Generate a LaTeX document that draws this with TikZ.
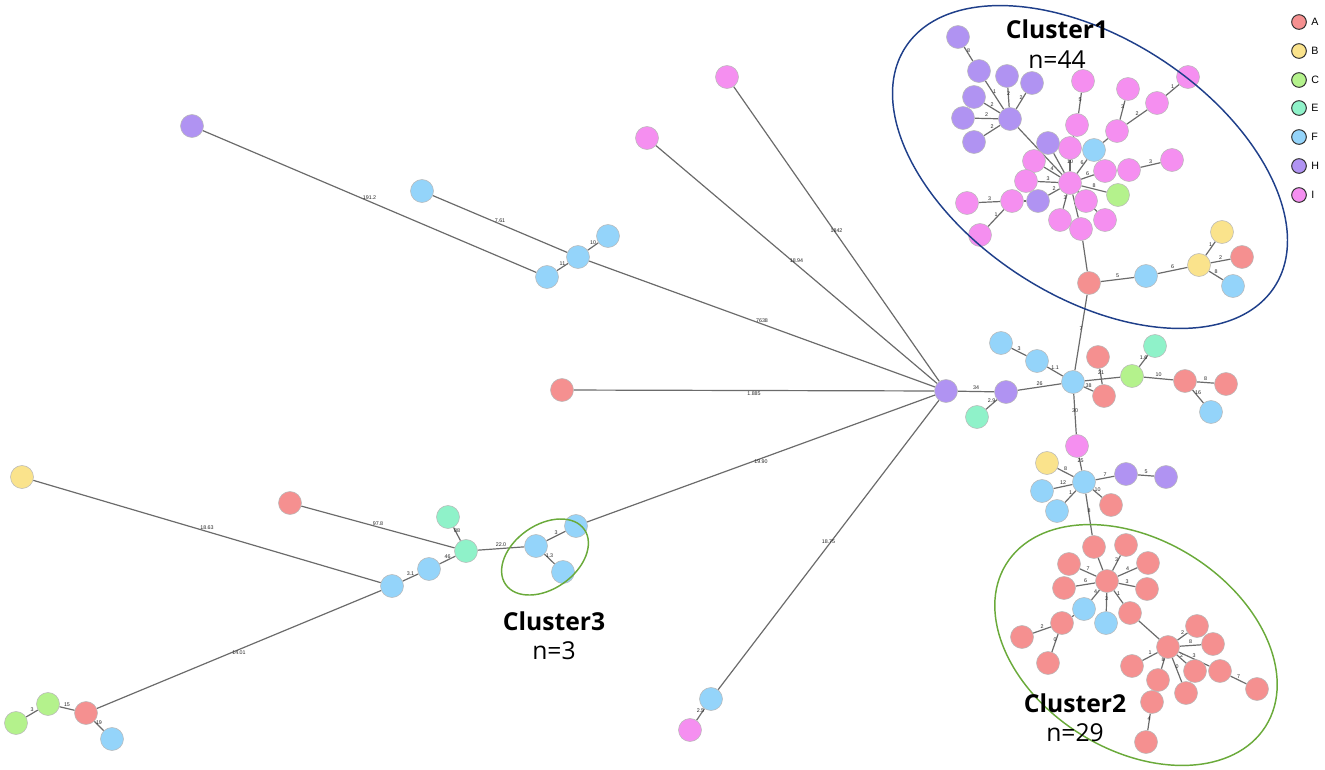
\documentclass[tikz,border=0pt]{standalone}
\usepackage{fontspec}
\setmainfont{Liberation Sans}
\newfontfamily\clf{Open Sans}
\definecolor{cA}{HTML}{F59090}
\definecolor{cB}{HTML}{FAE38C}
\definecolor{cC}{HTML}{B4F28C}
\definecolor{cE}{HTML}{8FF2C9}
\definecolor{cF}{HTML}{94D4FA}
\definecolor{cH}{HTML}{B093F2}
\definecolor{cI}{HTML}{F58FF0}
\definecolor{navy}{HTML}{1F3F8A}
\definecolor{grn}{HTML}{6AAA3A}
\pgfdeclarelayer{edges}
\pgfsetlayers{edges,main}
\tikzset{
 nd/.style={circle,draw=black!28,line width=0.4pt,minimum size=17.25pt,inner sep=0pt},
 ed/.style={draw=black!58,line width=0.9pt},
 el/.style={font=\fontsize{4}{4}\selectfont,inner sep=0.8pt,midway,above,text=black!85},
 lg/.style={circle,draw=black!80,line width=0.75pt,minimum size=11pt,inner sep=0pt},
 lt/.style={font=\fontsize{8}{8}\selectfont,anchor=west,inner sep=0pt},
 cl/.style={font=\clf\bfseries\fontsize{18.5}{20}\selectfont,inner sep=0pt},
 cn/.style={font=\clf\fontsize{18.5}{20}\selectfont,inner sep=0pt},
}
\newcommand\NodeAt[4]{\node[nd,fill=#4] (#1) at (#2,#3) {};}
\newcommand\EdgeL[4][]{\draw[ed] (#2) -- (#3) node[el,#1]{#4};}
\begin{document}
\begin{tikzpicture}[x=0.75pt,y=-0.75pt]
\useasboundingbox (0,0) rectangle (1325,769);
% ---------- central ----------
\NodeAt{hub}{946}{391}{cH}
\NodeAt{hr}{1006}{392}{cH}
\NodeAt{ea}{977}{417}{cE}
\NodeAt{fhub}{1073}{382}{cF}
\NodeAt{fe}{1001}{343}{cF}
\NodeAt{ff}{1037}{361}{cF}
\NodeAt{aa}{1098}{357}{cA}
\NodeAt{ab}{1104}{396}{cA}
\NodeAt{cg}{1132}{376}{cC}
\NodeAt{eb}{1155}{346}{cE}
\NodeAt{ac}{1185}{381}{cA}
\NodeAt{ad}{1226}{384}{cA}
\NodeAt{fg}{1211}{412}{cF}
\NodeAt{pk}{1077}{446}{cI}
\NodeAt{fh2}{1084}{482}{cF}
\NodeAt{by}{1047}{463}{cB}
\NodeAt{fh}{1042}{491}{cF}
\NodeAt{fi}{1057}{511}{cF}
\NodeAt{hpa}{1126}{474}{cH}
\NodeAt{hpb}{1166}{477}{cH}
\NodeAt{ae}{1111}{505}{cA}
% ---------- cluster 1 ----------
\NodeAt{ih}{1070}{183}{cI}
\NodeAt{ha}{958}{37}{cH}
\NodeAt{hb}{979}{71}{cH}
\NodeAt{hc}{1007}{76}{cH}
\NodeAt{hd}{1032}{83}{cH}
\NodeAt{he}{974}{97}{cH}
\NodeAt{hf}{963}{118}{cH}
\NodeAt{hg}{974}{142}{cH}
\NodeAt{hh}{1010}{119}{cH}
\NodeAt{pa}{1083}{81}{cI}
\NodeAt{pb}{1077}{125}{cI}
\NodeAt{pc}{1070}{148}{cI}
\NodeAt{hi}{1048}{143}{cH}
\NodeAt{fa1}{1094}{150}{cF}
\NodeAt{pd}{1117}{131}{cI}
\NodeAt{pe}{1128}{89}{cI}
\NodeAt{pf}{1157}{103}{cI}
\NodeAt{pg}{1188}{77}{cI}
\NodeAt{ph}{1034}{161}{cI}
\NodeAt{pi}{1026}{181}{cI}
\NodeAt{pj}{1105}{171}{cI}
\NodeAt{pl}{1129}{170}{cI}
\NodeAt{pm}{1172}{160}{cI}
\NodeAt{pn}{1086}{201}{cI}
\NodeAt{ca1}{1118}{195}{cC}
\NodeAt{hj}{1038}{201}{cH}
\NodeAt{po}{1012}{201}{cI}
\NodeAt{pp}{967}{203}{cI}
\NodeAt{pq}{980}{235}{cI}
\NodeAt{pr}{1060}{220}{cI}
\NodeAt{ps}{1081}{229}{cI}
\NodeAt{pu}{1105}{220}{cI}
\NodeAt{aone}{1089}{283}{cA}
\NodeAt{ftwo}{1146}{276}{cF}
\NodeAt{bone}{1199}{265}{cB}
\NodeAt{btwo}{1222}{232}{cB}
\NodeAt{atwo}{1242}{257}{cA}
\NodeAt{fthree}{1233}{286}{cF}
% ---------- cluster 2 ----------
\NodeAt{ct}{1094}{547}{cA}
\NodeAt{ch}{1107}{581}{cA}
\NodeAt{qa}{1126}{545}{cA}
\NodeAt{qb}{1148}{563}{cA}
\NodeAt{qc}{1147}{589}{cA}
\NodeAt{qd}{1069}{564}{cA}
\NodeAt{qe}{1064}{588}{cA}
\NodeAt{qf}{1084}{609}{cF}
\NodeAt{qg}{1106}{623}{cF}
\NodeAt{qh}{1130}{613}{cA}
\NodeAt{qi}{1062}{623}{cA}
\NodeAt{qj}{1022}{637}{cA}
\NodeAt{qk}{1048}{663}{cA}
\NodeAt{hubc}{1168}{647}{cA}
\NodeAt{ql}{1197}{626}{cA}
\NodeAt{qm}{1213}{644}{cA}
\NodeAt{qn}{1132}{666}{cA}
\NodeAt{qo}{1158}{680}{cA}
\NodeAt{qp}{1186}{693}{cA}
\NodeAt{qq}{1195}{671}{cA}
\NodeAt{qr}{1220}{671}{cA}
\NodeAt{qs}{1257}{689}{cA}
\NodeAt{qt}{1152}{702}{cA}
\NodeAt{qu}{1146}{742}{cA}
% ---------- left part ----------
\NodeAt{fa}{422}{191}{cF}
\NodeAt{fb}{578}{257}{cF}
\NodeAt{fc}{608}{236}{cF}
\NodeAt{fd}{547}{277}{cF}
\NodeAt{hl}{192}{126}{cH}
\NodeAt{pta}{727}{77}{cI}
\NodeAt{ptb}{647}{138}{cI}
\NodeAt{ar}{562}{390}{cA}
\NodeAt{ftop}{576}{526}{cF}
\NodeAt{cthree}{536}{546}{cF}
\NodeAt{cthreeb}{563}{572}{cF}
\NodeAt{eh}{466}{551}{cE}
\NodeAt{ethree}{448}{517}{cE}
\NodeAt{artwo}{290}{503}{cA}
\NodeAt{fm}{429}{569}{cF}
\NodeAt{fn}{392}{586}{cF}
\NodeAt{yl}{22}{477}{cB}
\NodeAt{al}{86}{713}{cA}
\NodeAt{ga}{48}{704}{cC}
\NodeAt{gb}{16}{723}{cC}
\NodeAt{fl}{112}{739}{cF}
\NodeAt{fbot}{711}{699}{cF}
\NodeAt{pbot}{690}{730}{cI}
% ---------- edges ----------
\begin{pgfonlayer}{edges}
% long edges to hub
\EdgeL{hub}{fb}{7638}
\EdgeL{hub}{pta}{1842}
\EdgeL{hub}{ptb}{18.94}
\EdgeL[below]{hub}{ar}{1.885}
\EdgeL[below]{hub}{ftop}{19.90}
\EdgeL{hub}{fbot}{18.75}
\EdgeL{fa}{fb}{7.61}
\EdgeL{hl}{fd}{191.2}
\EdgeL{fb}{fc}{10}
\EdgeL{fb}{fd}{11}
\EdgeL{ftop}{cthree}{3}
\EdgeL{cthree}{cthreeb}{1.3}
\EdgeL{eh}{cthree}{22.0}
\EdgeL{ethree}{eh}{88}
\EdgeL{artwo}{eh}{97.8}
\EdgeL{fm}{eh}{46}
\EdgeL{fn}{fm}{3.1}
\EdgeL{yl}{fn}{18.63}
\EdgeL[below]{al}{fn}{14.01}
\EdgeL{ga}{al}{15}
\EdgeL{gb}{ga}{3}
\EdgeL{al}{fl}{19}
\EdgeL{fbot}{pbot}{2.5}
% central right
\EdgeL{hub}{hr}{34}
\EdgeL{hr}{ea}{2.9}
\EdgeL{hr}{fhub}{26}
\EdgeL{fe}{ff}{3}
\EdgeL{ff}{fhub}{1.1}
\EdgeL{fhub}{ab}{38}
\EdgeL{aa}{ab}{21}
\EdgeL{fhub}{cg}{}
\EdgeL{cg}{eb}{1.6}
\EdgeL{cg}{ac}{10}
\EdgeL{ac}{ad}{8}
\EdgeL{ac}{fg}{16}
\EdgeL{fhub}{aone}{7}
\EdgeL{fhub}{pk}{30}
\EdgeL{pk}{fh2}{25}
\EdgeL{by}{fh2}{8}
\EdgeL{fh}{fh2}{12}
\EdgeL{fi}{fh2}{1}
\EdgeL{fh2}{hpa}{7}
\EdgeL{hpa}{hpb}{5}
\EdgeL{fh2}{ae}{10}
\EdgeL{fh2}{ct}{8}
% cluster 1
\EdgeL{ha}{hb}{8}
\EdgeL{hb}{hh}{1}
\EdgeL{hc}{hh}{2}
\EdgeL{hd}{hh}{2}
\EdgeL{he}{hh}{2}
\EdgeL{hf}{hh}{2}
\EdgeL{hg}{hh}{2}
\EdgeL{hh}{ih}{4}
\EdgeL{pa}{pb}{5}
\EdgeL{pb}{pc}{}
\EdgeL{pc}{ih}{10}
\EdgeL{hi}{ih}{}
\EdgeL{fa1}{ih}{6}
\EdgeL{fa1}{pd}{}
\EdgeL{pd}{pe}{3}
\EdgeL{pd}{pf}{2}
\EdgeL{pf}{pg}{1}
\EdgeL{ph}{ih}{4}
\EdgeL{pi}{ih}{3}
\EdgeL{ih}{pj}{6}
\EdgeL{pj}{pl}{}
\EdgeL{pl}{pm}{3}
\EdgeL{ih}{pn}{}
\EdgeL{ih}{ca1}{8}
\EdgeL{ih}{hj}{2}
\EdgeL{hj}{po}{}
\EdgeL{po}{pp}{3}
\EdgeL{po}{pq}{1}
\EdgeL{ih}{pr}{3}
\EdgeL{ih}{ps}{3}
\EdgeL{ih}{pu}{}
\EdgeL{ps}{aone}{}
\EdgeL{aone}{ftwo}{5}
\EdgeL{ftwo}{bone}{6}
\EdgeL{bone}{btwo}{1}
\EdgeL{bone}{atwo}{2}
\EdgeL{bone}{fthree}{8}
% cluster 2
\EdgeL{ct}{ch}{}
\EdgeL{qa}{ch}{3}
\EdgeL{qb}{ch}{4}
\EdgeL{qc}{ch}{3}
\EdgeL{qd}{ch}{7}
\EdgeL{qe}{ch}{6}
\EdgeL{qf}{ch}{4}
\EdgeL{qg}{ch}{3}
\EdgeL{qh}{ch}{1}
\EdgeL{qi}{qf}{}
\EdgeL{qj}{qi}{2}
\EdgeL{qk}{qi}{0}
\EdgeL{qh}{hubc}{}
\EdgeL{hubc}{ql}{2}
\EdgeL{hubc}{qm}{8}
\EdgeL{hubc}{qn}{1}
\EdgeL{hubc}{qo}{8}
\EdgeL{hubc}{qp}{0}
\EdgeL{hubc}{qq}{2}
\EdgeL{hubc}{qr}{3}
\EdgeL{qr}{qs}{7}
\EdgeL{qo}{qt}{}
\EdgeL{qt}{qu}{4}
\end{pgfonlayer}
% ---------- cluster ellipses ----------
\draw[navy,line width=1.1pt,rotate around={-33:(1090,167)}] (1090,167) ellipse [x radius=165pt, y radius=96.75pt];
\draw[grn,line width=1.1pt,rotate around={-32:(1136,645)}] (1136,645) ellipse [x radius=114.75pt, y radius=78.75pt];
\draw[grn,line width=1.1pt,rotate around={35:(545,557)}] (545,557) ellipse [x radius=36pt, y radius=24pt];
% ---------- cluster titles ----------
\node[cl] (t1) at (1057,29) {Cluster1};
\node[cn] (n1) at (1057,60) {n=44};
\node[cl] (t2) at (1075,703) {Cluster2};
\node[cn] (n2) at (1075,733) {n=29};
\node[cl] (t3) at (554,621) {Cluster3};
\node[cn] (n3) at (554,651) {n=3};
% ---------- legend ----------
\node[lg,fill=cA] (la) at (1299,22) {};
\node[lg,fill=cB] (lb) at (1299,51) {};
\node[lg,fill=cC] (lc) at (1299,80) {};
\node[lg,fill=cE] (le) at (1299,108) {};
\node[lg,fill=cF] (lf) at (1299,137) {};
\node[lg,fill=cH] (lh) at (1299,166) {};
\node[lg,fill=cI] (li) at (1299,195) {};
\node[lt] at (1311,22) {A};
\node[lt] at (1311,51) {B};
\node[lt] at (1311,80) {C};
\node[lt] at (1311,108) {E};
\node[lt] at (1311,137) {F};
\node[lt] at (1311,166) {H};
\node[lt] at (1311,195) {I};
\end{tikzpicture}
\end{document}
